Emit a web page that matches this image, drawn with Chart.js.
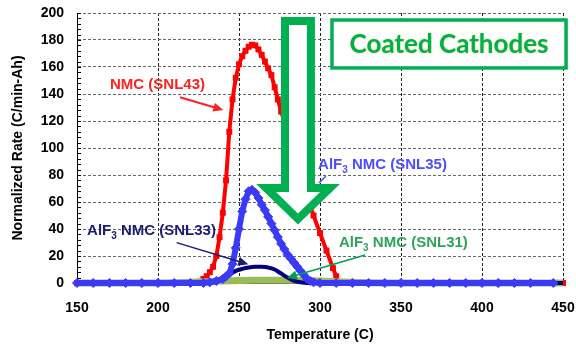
<!DOCTYPE html>
<html>
<head>
<meta charset="utf-8">
<script src="https://cdn.jsdelivr.net/npm/chart.js@4.4.0/dist/chart.umd.min.js"></script>
<style>
  html, body { margin: 0; padding: 0; background: #fff; }
  #wrap { width: 576px; height: 344px; }
</style>
</head>
<body>
<div id="wrap"><canvas id="rateChart"></canvas></div>
<script>
// NMC (SNL43) - uncoated
const tempSNL43 = [150, 170, 190, 210, 220, 226, 228, 230, 232, 234, 236, 238, 240, 242, 244, 246, 248, 250,
  252, 254, 256, 258, 260, 262, 264, 266, 268, 270, 272, 274, 276, 280, 284, 288, 292, 296, 300, 304, 308, 310,
  312, 330, 360, 390, 420, 450];
const rateSNL43 = [0, 0, 0, 0, 0, 1, 3, 5, 8, 12, 20, 34, 52, 76, 112, 136, 152, 162,
  168, 172, 175, 176.5, 176, 173, 169, 164, 159, 154, 145, 136, 127, 112, 96, 80, 65, 50, 37, 24, 11, 5,
  0, 0, 0, 0, 0, 0];

// AlF3 NMC (SNL35)
const tempSNL35 = [150, 160, 170, 180, 190, 200, 210, 220, 228, 232, 236, 240, 242, 244, 246, 248, 250, 252,
  254, 256, 258, 260, 262, 264, 266, 268, 270, 272, 274, 276, 278, 280, 282, 284, 286, 288, 290, 292, 294, 296,
  300, 310, 320, 330, 340, 350, 360, 370, 380, 390, 400, 410, 420, 430, 444];
const rateSNL35 = [0, 0, 0, 0, 0, 0, 0, 0, 0, 0.5, 1.5, 3, 5, 7, 14, 26, 40, 53,
  62, 68, 69, 67, 63, 58, 54, 49, 44, 39, 34, 29, 25, 21, 18, 15, 12, 9, 6, 3, 1.5, 0.5,
  0, 0, 0, 0, 0, 0, 0, 0, 0, 0, 0, 0, 0, 0, 0];

// AlF3 NMC (SNL33)
const tempSNL33 = [150, 200, 230, 236, 240, 244, 248, 252, 256, 260, 264, 268, 272, 276, 280, 284, 288, 292, 320, 380, 450];
const rateSNL33 = [0, 0, 0, 1, 3, 6, 9, 10.5, 11.5, 12, 12, 11.5, 10, 7, 4, 1.5, 0.5, 0, 0, 0, 0];

// AlF3 NMC (SNL31)
const tempSNL31 = [150, 200, 220, 240, 260, 280, 300, 320, 340, 400, 450];
const rateSNL31 = [0, 0, 0.5, 1.5, 2, 2, 1.5, 0.5, 0, 0, 0];

const xTicks = [150, 200, 250, 300, 350, 400, 450];
const yTicks = [0, 20, 40, 60, 80, 100, 120, 140, 160, 180, 200];

const pts = (xs, ys) => xs.map((t, i) => ({ x: t, y: ys[i] }));

function drawArrow(ctx, x1, y1, x2, y2, color, w) {
  const a = Math.atan2(y2 - y1, x2 - x1), L = 10, W = 4.5;
  ctx.strokeStyle = color;
  ctx.lineWidth = w;
  ctx.beginPath();
  ctx.moveTo(x1, y1);
  ctx.lineTo(x2 - L * 0.8 * Math.cos(a), y2 - L * 0.8 * Math.sin(a));
  ctx.stroke();
  ctx.fillStyle = color;
  ctx.beginPath();
  ctx.moveTo(x2, y2);
  ctx.lineTo(x2 - L * Math.cos(a) + W * Math.sin(a), y2 - L * Math.sin(a) - W * Math.cos(a));
  ctx.lineTo(x2 - L * Math.cos(a) - W * Math.sin(a), y2 - L * Math.sin(a) + W * Math.cos(a));
  ctx.closePath();
  ctx.fill();
}

// text with a subscript part, e.g. AlF3
function drawLabel(ctx, x, y, parts, color) {
  ctx.fillStyle = color;
  ctx.textBaseline = 'middle';
  ctx.textAlign = 'left';
  for (const [txt, sub] of parts) {
    ctx.font = sub ? 'bold 10px "Liberation Sans", Arial' : 'bold 15px "Liberation Sans", Arial';
    ctx.fillText(txt, x, sub ? y + 5 : y);
    x += ctx.measureText(txt).width;
  }
}

const callouts = {
  id: 'callouts',
  beforeDatasetsDraw(chart) {
    // minor ticks on the rate axis
    const { ctx, scales: { x, y } } = chart;
    ctx.save();
    ctx.strokeStyle = '#000';
    ctx.lineWidth = 1;
    for (let v = 0; v <= 200; v += 4) {
      const yy = Math.round(y.getPixelForValue(v)) + 0.5;
      ctx.beginPath();
      ctx.moveTo(x.left, yy);
      ctx.lineTo(x.left + 4, yy);
      ctx.stroke();
    }
    ctx.restore();
  },
  afterDatasetsDraw(chart) {
    const { ctx, scales: { x, y } } = chart;
    const px = t => x.getPixelForValue(t);
    const py = r => y.getPixelForValue(r);
    ctx.save();

    // big hollow down arrow
    ctx.beginPath();
    ctx.moveTo(px(278.4), py(194));
    ctx.lineTo(px(294.4), py(194));
    ctx.lineTo(px(294.4), py(70.4));
    ctx.lineTo(px(306.2), py(70.4));
    ctx.lineTo(px(286.4), py(47.4));
    ctx.lineTo(px(266.7), py(70.4));
    ctx.lineTo(px(278.4), py(70.4));
    ctx.closePath();
    ctx.fillStyle = '#fff';
    ctx.fill();
    ctx.strokeStyle = '#00b050';
    ctx.lineWidth = 8;
    ctx.lineJoin = 'miter';
    ctx.stroke();

    // title box
    const bx = px(307.4), by = py(194.8), bw = px(451.9) - bx, bh = py(159.3) - by;
    ctx.fillStyle = '#fff';
    ctx.fillRect(bx, by, bw, bh);
    ctx.strokeStyle = '#00b050';
    ctx.lineWidth = 3.5;
    ctx.strokeRect(bx, by, bw, bh);
    ctx.save();
    ctx.font = 'bold 26px Lato, "Open Sans", sans-serif';
    ctx.textAlign = 'center';
    ctx.textBaseline = 'middle';
    ctx.shadowColor = 'rgba(215, 200, 60, 0.8)';
    ctx.shadowBlur = 2;
    ctx.fillStyle = '#00b050';
    ctx.fillText('Coated Cathodes', bx + bw / 2, by + bh / 2 + 1);
    ctx.restore();

    // series callouts
    ctx.textAlign = 'center';
    ctx.textBaseline = 'middle';
    ctx.font = 'bold 15px "Liberation Sans", Arial';
    ctx.fillStyle = '#ff2020';
    ctx.fillText('NMC (SNL43)', px(199.7), py(146.7));
    drawArrow(ctx, px(213.6), py(137.6), px(240.3), py(128.1), '#ff2020', 2);

    drawLabel(ctx, px(298.8), py(87.4), [['AlF', false], ['3', true], [' NMC (SNL35)', false]], '#4d4dff');
    ctx.strokeStyle = '#4d4dff';
    ctx.lineWidth = 1.5;
    ctx.beginPath();
    ctx.moveTo(px(303.7), py(79.3));
    ctx.lineTo(px(299.4), py(74.1));
    ctx.stroke();

    drawLabel(ctx, px(156.2), py(38.5), [['AlF', false], ['3', true], [' NMC (SNL33)', false]], '#1c1c78');
    drawArrow(ctx, px(211.5), py(29.9), px(255.7), py(13.9), '#1c1c78', 1.5);

    drawLabel(ctx, px(311.7), py(29.6), [['AlF', false], ['3', true], [' NMC (SNL31)', false]], '#2fa35a');
    drawArrow(ctx, px(327.8), py(20.7), px(279.6), py(3.7), '#00a050', 1.5);

    ctx.restore();
  }
};

const tickFont = { family: '"Liberation Sans", Arial, sans-serif', size: 14, weight: 'bold' };

new Chart(document.getElementById('rateChart'), {
  type: 'line',
  data: {
    datasets: [
      { label: 'AlF3 NMC (SNL35)', data: pts(tempSNL35, rateSNL35), borderColor: '#3a3af8', backgroundColor: '#3a3af8',
        borderWidth: 6, pointStyle: 'rectRot', pointRadius: 4.5, pointBorderWidth: 1, clip: 10 },
      { label: 'AlF3 NMC (SNL33)', data: pts(tempSNL33, rateSNL33), borderColor: '#000080', backgroundColor: '#000080',
        borderWidth: 4, pointRadius: 0, tension: 0.3, clip: 10 },
      { label: 'AlF3 NMC (SNL31)', data: pts(tempSNL31, rateSNL31), borderColor: '#9bbb59', backgroundColor: '#9bbb59',
        borderWidth: 7, pointRadius: 0, tension: 0.3, clip: 10 },
      { label: 'NMC (SNL43)', data: pts(tempSNL43, rateSNL43), borderColor: '#ff0000', backgroundColor: '#ff0000',
        borderWidth: 4, pointStyle: 'rect', pointRadius: 4.2, pointBorderWidth: 0, clip: 10 }
    ]
  },
  options: {
    responsive: true,
    maintainAspectRatio: false,
    animation: false,
    layout: { padding: { top: 13, right: 13, left: 0, bottom: 0 } },
    scales: {
      x: {
        type: 'linear', min: 150, max: 450,
        afterFit: s => { s.height = 61; s.paddingLeft = 0; s.paddingRight = 0; },
        afterBuildTicks: s => { s.ticks = xTicks.map(v => ({ value: v })); },
        grid: { color: '#222', lineWidth: 1, drawTicks: false },
        border: { display: true, color: '#000', dash: [3, 2] },
        ticks: { color: '#000', font: tickFont, padding: 17 },
        title: { display: true, text: 'Temperature (C)', color: '#000', font: tickFont, padding: { top: 0, bottom: 0 } }
      },
      y: {
        min: 0, max: 200,
        afterFit: s => { s.width = 77; s.paddingTop = 0; s.paddingBottom = 0; },
        afterBuildTicks: s => { s.ticks = yTicks.map(v => ({ value: v })); },
        grid: { color: '#666', lineWidth: 1, drawTicks: false },
        border: { display: true, color: '#000', dash: [3, 2] },
        ticks: { color: '#000', font: tickFont, padding: 13 },
        title: { display: true, text: 'Normalized Rate (C/min-Ah)', color: '#000', font: tickFont, padding: { top: 10, bottom: 0 } }
      }
    },
    plugins: { legend: { display: false }, tooltip: { enabled: false } }
  },
  plugins: [callouts]
});
</script>
</body>
</html>
